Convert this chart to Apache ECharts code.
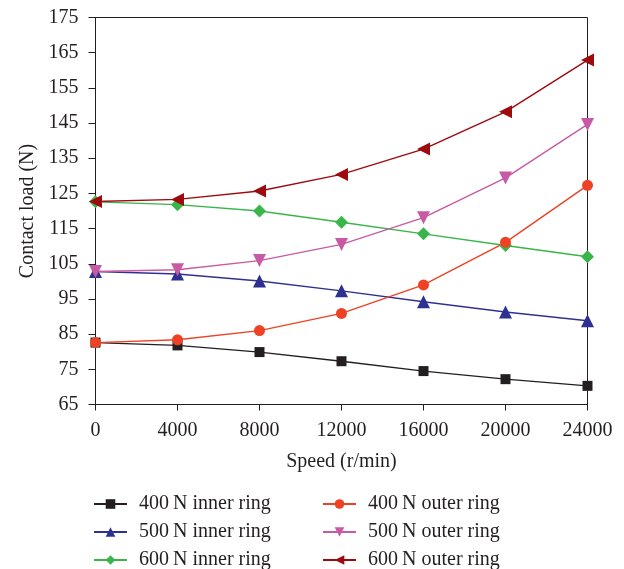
<!DOCTYPE html>
<html><head><meta charset="utf-8">
<script src="https://cdn.jsdelivr.net/npm/echarts@6/dist/echarts.min.js"></script>
<style>html,body{margin:0;padding:0;background:#fff}#c{width:624px;height:569px}</style>
</head><body><div id="c"></div>
<script>
const speeds = [0, 4000, 8000, 12000, 16000, 20000, 24000];
const yTicks = [65, 75, 85, 95, 105, 115, 125, 135, 145, 155, 165, 175];
const xTicks = [0, 4000, 8000, 12000, 16000, 20000, 24000];
const inner400 = [82.6, 81.8, 79.9, 77.3, 74.5, 72.2, 70.3];
const inner500 = [102.8, 102.1, 100.1, 97.3, 94.2, 91.3, 88.8];
const inner600 = [122.6, 121.8, 120.0, 116.8, 113.5, 110.2, 107.0];
const outer400 = [82.6, 83.4, 86.0, 90.9, 99.0, 111.1, 127.3];
const outer500 = [102.8, 103.3, 105.9, 110.5, 118.1, 129.4, 144.6];
const outer600 = [122.7, 123.3, 125.7, 130.4, 137.6, 148.2, 162.9];
const names = ['400\u2009N inner ring','500\u2009N inner ring','600\u2009N inner ring','400\u2009N outer ring','500\u2009N outer ring','600\u2009N outer ring'];

const FONT = 'Liberation Serif';
const TXT = '#231f20';
function mk(name, vals, color, symbol, size) {
  return {
    name, type: 'line', data: speeds.map((s, i) => [s, vals[i]]),
    symbol, symbolSize: size, showSymbol: true,
    lineStyle: { color, width: 1.4 }, itemStyle: { color },
    z: 3
  };
}
const series = [
  mk(names[0], inner400, '#231f20', 'rect', 10),
  mk(names[1], inner500, '#2e3192', 'triangle', 13),
  mk(names[2], inner600, '#39b54a', 'diamond', 13),
  mk(names[3], outer400, '#ef4123', 'circle', 11),
  mk(names[4], outer500, '#c85aa5', 'path://M0,0L10,0L5,9z', 13),
  mk(names[5], outer600, '#9e0b0f', 'path://M0,5L9,0L9,10z', 13),
];
const legendBase = {
  orient: 'vertical', itemWidth: 33, itemHeight: 12, itemGap: 8, padding: 0, height: 90,
  textStyle: { fontFamily: FONT, fontSize: 20, color: TXT, padding: [0,0,0,7] },
  selectedMode: false
};
const chart = echarts.init(document.getElementById('c'));
chart.setOption({
  animation: false,
  backgroundColor: '#fff',
  grid: { left: 95.5, right: 36.5, top: 17.5, bottom: 164.5, show: true, borderColor: TXT, borderWidth: 1, backgroundColor: 'transparent' },
  legend: [
    Object.assign({}, legendBase, { left: 93, top: 494, data: names.slice(0,3) }),
    Object.assign({}, legendBase, { left: 322, top: 494, data: names.slice(3) })
  ],
  xAxis: {
    type: 'value', min: 0, max: 24000, interval: 4000,
    name: 'Speed (r/min)', nameLocation: 'middle', nameGap: 47,
    nameTextStyle: { fontFamily: FONT, fontSize: 20, color: TXT },
    axisLine: { show: true, lineStyle: { color: TXT, width: 1 } },
    axisTick: { show: true, inside: false, length: 6, lineStyle: { color: TXT }, customValues: xTicks },
    axisLabel: { fontFamily: FONT, fontSize: 20, color: TXT, margin: 16, customValues: xTicks, formatter: v => String(v) },
    splitLine: { show: false }
  },
  yAxis: {
    type: 'value', min: 65, max: 175,
    name: 'Contact load (N)', nameLocation: 'middle', nameGap: 58, nameRotate: 90,
    nameTextStyle: { fontFamily: FONT, fontSize: 20, color: TXT },
    axisLine: { show: true, lineStyle: { color: TXT, width: 1 } },
    axisTick: { show: true, inside: false, length: 7, lineStyle: { color: TXT }, customValues: yTicks },
    axisLabel: { fontFamily: FONT, fontSize: 20, color: TXT, margin: 17, customValues: yTicks, formatter: v => String(v) },
    splitLine: { show: false }
  },
  series
});
</script>
</body></html>
